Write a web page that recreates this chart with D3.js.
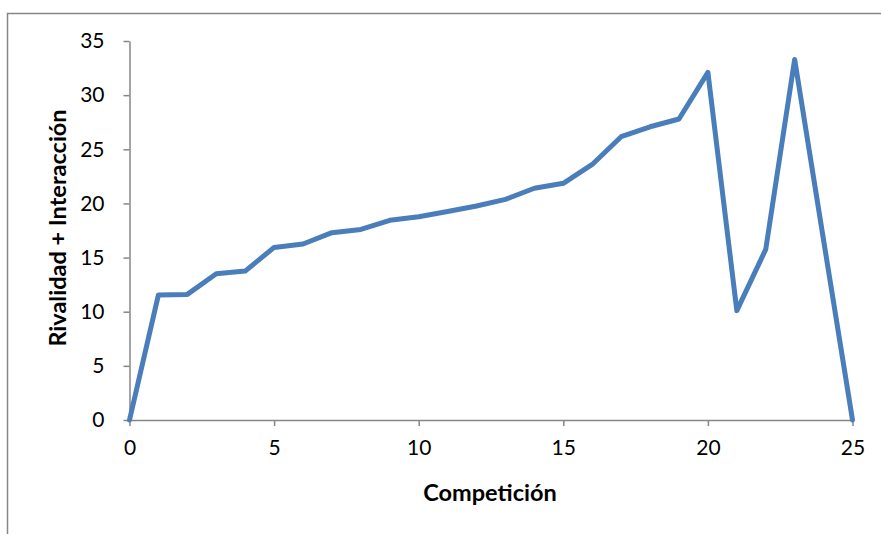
<!DOCTYPE html>
<html><head><meta charset="utf-8">
<script src="https://cdn.jsdelivr.net/npm/d3@7"></script>
<style>body{margin:0;background:#fff}svg{display:block}</style>
</head><body>
<svg id="c" width="881" height="534"></svg>
<script>
const competicion = [0,1,2,3,4,5,6,7,8,9,10,11,12,13,14,15,16,17,18,19,20,21,22,23,24,25];
const rivalidad = [0,11.55,11.6,13.5,13.75,15.94,16.25,17.3,17.6,18.44,18.77,19.25,19.76,20.37,21.4,21.86,23.6,26.16,27.08,27.8,32.1,10.1,15.76,33.3,16.6,0];
const xTicks = [0,5,10,15,20,25];
const yTicks = [0,5,10,15,20,25,30,35];
const xTitle = "Competición";
const yTitle = "Rivalidad + Interacción";

const svg = d3.select("#c");
const font = "Lato, 'Open Sans', sans-serif";
const axisColor = "#868686";

svg.append("rect").attr("x",7.5).attr("y",13.5).attr("width",1000).attr("height",1000)
  .attr("fill","none").attr("stroke",axisColor).attr("stroke-width",1.5);

const x = d3.scaleLinear().domain([0,25]).range([129.5,852.5]);
const y = d3.scaleLinear().domain([0,35]).range([420,41]);

const gy = svg.append("g").attr("transform","translate(129.5,0)")
  .call(d3.axisLeft(y).tickValues(yTicks).tickSize(6).tickPadding(19).tickSizeOuter(0));
const gx = svg.append("g").attr("transform","translate(0,420)")
  .call(d3.axisBottom(x).tickValues(xTicks).tickSize(6).tickPadding(14).tickSizeOuter(0));
[gx,gy].forEach(g=>{
  g.selectAll("path,line").attr("stroke",axisColor).attr("stroke-width",1.5);
  g.selectAll("text").attr("font-family",font).attr("font-size",21).attr("fill","#000");
});

const line = d3.line().x((d,i)=>x(competicion[i])).y(d=>y(d));
svg.append("path").datum(rivalidad).attr("d",line)
  .attr("fill","none").attr("stroke","#4a7ebb").attr("stroke-width",5)
  .attr("stroke-linejoin","round").attr("stroke-linecap","round");

svg.append("text").attr("x",490).attr("y",501).attr("text-anchor","middle")
  .attr("font-family",font).attr("font-weight","bold").attr("font-size",23.5).text(xTitle);
svg.append("text").attr("transform","translate(66,228) rotate(-90)").attr("text-anchor","middle")
  .attr("font-family",font).attr("font-weight","bold").attr("font-size",23.5).text(yTitle);
</script>
</body></html>
